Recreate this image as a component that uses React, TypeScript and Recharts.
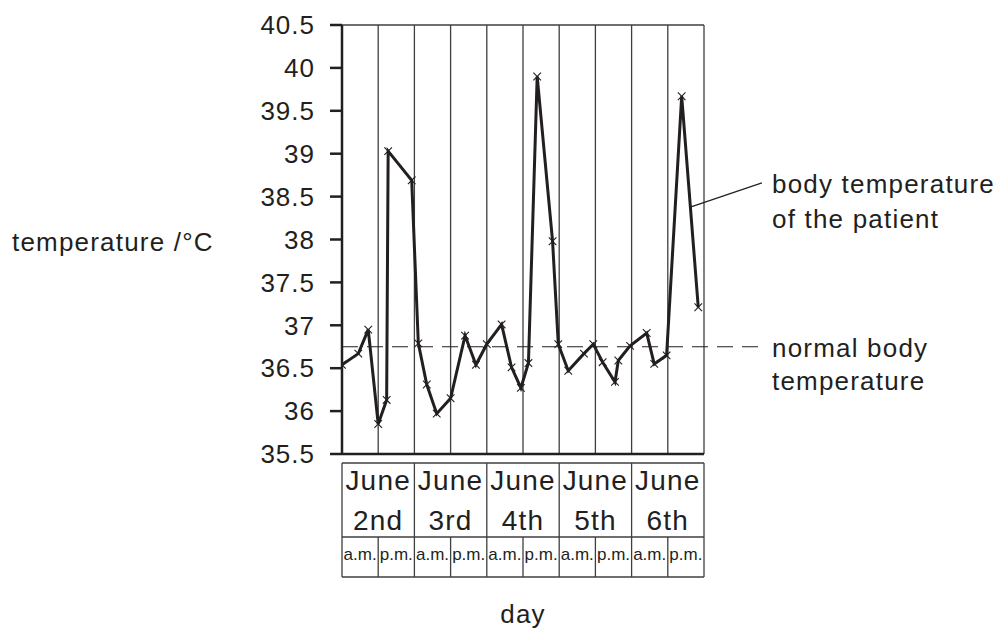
import React from 'react';
import {
  LineChart,
  Line,
  XAxis,
  YAxis,
  ReferenceLine,
  Customized,
} from 'recharts';

// hours since June 2nd 00:00 and the readings at those times
const hours = [
  0, 5.4, 8.7, 12.0, 14.8, 15.3, 23.1, 25.3, 28.1, 31.4, 36.0, 40.8, 44.4, 48.0,
  52.9, 56.2, 59.3, 61.8, 64.7, 69.8, 71.7, 75.0, 80.2, 83.3, 86.4, 90.5, 91.6,
  95.5, 101.0, 103.5, 107.6, 112.6, 118.1,
];
const temps = [
  36.54, 36.67, 36.95, 35.85, 36.13, 39.03, 38.69, 36.79, 36.31, 35.97, 36.15,
  36.88, 36.54, 36.78, 37.01, 36.51, 36.27, 36.56, 39.9, 37.98, 36.78, 36.47,
  36.67, 36.78, 36.57, 36.34, 36.59, 36.76, 36.91, 36.55, 36.65, 39.67, 37.21,
];
const tempTicks = [35.5, 36, 36.5, 37, 37.5, 38, 38.5, 39, 39.5, 40, 40.5];
const month = 'June';
const days = ['2nd', '3rd', '4th', '5th', '6th'];
const halves = ['a.m.', 'p.m.'];
const normalTemp = 36.75;

const data = hours.map((h, i) => ({ h, t: temps[i] }));
const colTicks = Array.from({ length: 11 }, (_, i) => i * 12);
const halfTicks = Array.from({ length: 21 }, (_, i) => i * 6);

const INK = '#231f20';
const GRID = '#3f3f40';
const FONT = '"Liberation Sans", Arial, sans-serif';

function renderCross(props: any) {
  const { cx, cy, index } = props;
  if (cx == null || cy == null) return <g key={index} />;
  const s = 3.8;
  return (
    <path
      key={index}
      d={`M${cx - s},${cy - s}L${cx + s},${cy + s}M${cx + s},${cy - s}L${cx - s},${cy + s}`}
      stroke={INK}
      strokeWidth={1.1}
      fill='none'
    />
  );
}

function DateTick(props: any) {
  const { x, y, payload } = props;
  const v = payload.value;
  if (v % 24 === 0) {
    return <line x1={x} y1={y} x2={x} y2={y + 74} stroke={GRID} strokeWidth={1.3} />;
  }
  const i = (v - 12) / 24;
  return (
    <text textAnchor='middle' fill={INK} fontSize={28} letterSpacing={1.2} fontFamily={FONT}>
      <tspan x={x} y={y + 27}>{month}</tspan>
      <tspan x={x} y={y + 67}>{days[i]}</tspan>
    </text>
  );
}

function HalfTick(props: any) {
  const { x, y, payload } = props;
  const v = payload.value;
  if (v % 12 === 0) {
    return <line x1={x} y1={y} x2={x} y2={y + 40} stroke={GRID} strokeWidth={1.3} />;
  }
  return (
    <text x={x} y={y + 23} textAnchor='middle' fill={INK} fontSize={17} fontFamily={FONT}>
      {halves[Math.floor(v / 12) % 2]}
    </text>
  );
}

function Notes() {
  const t = { fill: INK, fontSize: 26, letterSpacing: 1.2, fontFamily: FONT };
  return (
    <g>
      <text x={12} y={251} {...t}>
        temperature /°C
      </text>
      <text x={772} y={193} {...t}>body temperature</text>
      <text x={772} y={228} {...t}>of the patient</text>
      <text x={772} y={357} {...t}>normal body</text>
      <text x={772} y={390} {...t}>temperature</text>
    </g>
  );
}

export default function App() {
  return (
    <div style={{ position: 'absolute', left: 0, top: 0, background: '#fff' }}>
      <LineChart
        width={1006}
        height={635}
        data={data}
        margin={{ top: 25, right: 302, bottom: 0, left: 0 }}
        style={{ fontFamily: FONT }}
      >
        <XAxis
          dataKey='h'
          type='number'
          domain={[0, 120]}
          ticks={colTicks}
          interval={0}
          allowDataOverflow
          height={9}
          tick={false}
          tickLine={false}
          axisLine={{ stroke: INK, strokeWidth: 2.5 }}
        />
        <XAxis
          xAxisId='x1dates'
          dataKey='h'
          type='number'
          domain={[0, 120]}
          ticks={colTicks}
          interval={0}
          allowDataOverflow
          height={74}
          tickSize={0}
          tickMargin={0}
          tickLine={false}
          tick={(p: any) => <DateTick {...p} />}
          axisLine={{ stroke: GRID, strokeWidth: 1.3 }}
        />
        <XAxis
          xAxisId='x2halves'
          dataKey='h'
          type='number'
          domain={[0, 120]}
          ticks={halfTicks}
          interval={0}
          allowDataOverflow
          height={40}
          tickSize={0}
          tickMargin={0}
          tickLine={false}
          tick={(p: any) => <HalfTick {...p} />}
          axisLine={{ stroke: GRID, strokeWidth: 1.3 }}
        />
        <XAxis
          xAxisId='x3base'
          dataKey='h'
          type='number'
          domain={[0, 120]}
          ticks={[60]}
          allowDataOverflow
          height={58}
          tick={false}
          tickLine={false}
          axisLine={{ stroke: GRID, strokeWidth: 1.3 }}
          label={{ value: 'day', position: 'insideTop', offset: 28, fontSize: 26, fill: INK, letterSpacing: 1.2 }}
        />
        <YAxis
          type='number'
          domain={[35.5, 40.5]}
          ticks={tempTicks}
          interval={0}
          allowDataOverflow
          width={342}
          tickSize={12}
          tickMargin={15}
          axisLine={{ stroke: INK, strokeWidth: 2.5 }}
          tickLine={{ stroke: INK, strokeWidth: 2.5 }}
          tick={{ fill: INK, fontSize: 26, letterSpacing: 1 }}
        />
        {colTicks.map((v) => (
          <ReferenceLine key={v} x={v} stroke={GRID} strokeWidth={1.3} />
        ))}
        <ReferenceLine y={40.5} stroke={GRID} strokeWidth={1.3} />
        <ReferenceLine
          segment={[
            { x: 0, y: normalTemp },
            { x: 138, y: normalTemp },
          ]}
          ifOverflow='visible'
          stroke={INK}
          strokeWidth={1.2}
          strokeDasharray='16 9'
        />
        <ReferenceLine
          segment={[
            { x: 115.7, y: 38.38 },
            { x: 139.2, y: 38.66 },
          ]}
          ifOverflow='visible'
          stroke={INK}
          strokeWidth={1.2}
        />
        <Line
          dataKey='t'
          type='linear'
          stroke={INK}
          strokeWidth={3}
          dot={renderCross}
          activeDot={false}
          isAnimationActive={false}
        />
        <Customized component={Notes} />
      </LineChart>
    </div>
  );
}
